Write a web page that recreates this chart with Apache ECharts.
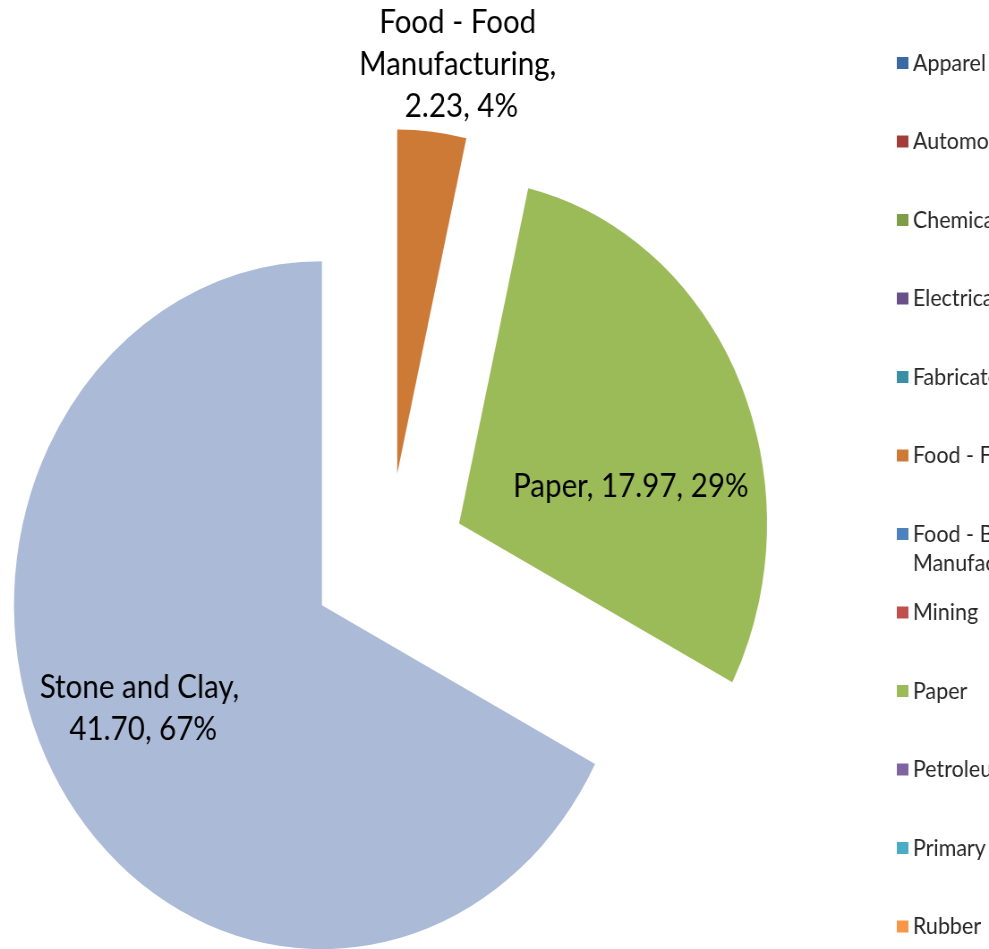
<!DOCTYPE html>
<html>
<head>
<meta charset="utf-8">
<script src="https://cdn.jsdelivr.net/npm/echarts@6/dist/echarts.min.js"></script>
<style>
  html, body { margin: 0; padding: 0; overflow: hidden; background: #fff; }
  /* the reference picture is squeezed horizontally, so draw wider and squeeze */
  #main { width: 1105px; height: 949px; transform: scaleX(0.895); transform-origin: 0 0; }
</style>
</head>
<body>
<div id="main"></div>
<script>
  var categories = ['Apparel', 'Automotive', 'Chemicals', 'Electrical', 'Fabricated Metals',
    'Food - Food Manufacturing', 'Food - Beverage Manufacturing', 'Mining', 'Paper',
    'Petroleum', 'Primary Metals', 'Rubber', 'Stone and Clay']
  var values = [0, 0, 0, 0, 0, 2.23, 0, 0, 17.97, 0, 0, 0, 41.70]
  var colors = ['#3b69a3', '#a23d3a', '#7f9d49', '#6a5088', '#3a8ea5', '#cd7a37',
    '#4f81bd', '#c0504d', '#9bbb59', '#8064a2', '#4bacc6', '#f79646', '#aabad7']

  // how far each data label is moved from its default inside spot (chart px)
  var labelShift = {
    'Food - Food Manufacturing': [52, -235],
    'Paper': [33, 36],
    'Stone and Clay': [-50, 12]
  }

  var font = 'Lato, "Liberation Sans", sans-serif'
  var myChart = echarts.init(document.getElementById('main'))

  var legends = categories.map(function (name, i) {
    var center = 63 + 78.5 * i
    var twoLine = name === 'Food - Beverage Manufacturing'
    return {
      orient: 'vertical',
      left: 1002,
      top: twoLine ? center - 43.5 : center - 14.5,
      padding: 0,
      itemWidth: 13,
      itemHeight: 12,
      itemGap: 0,
      icon: 'rect',
      selectedMode: false,
      data: [name],
      formatter: function (n) {
        // blank first line so the square lines up with the first line of text
        return n === 'Food - Beverage Manufacturing' ? '\nFood - Beverage\nManufacturing' : n
      },
      textStyle: {
        fontFamily: font,
        fontSize: 24,
        lineHeight: 29,
        color: '#262626'
      }
    }
  })

  var option = {
    animation: false,
    legend: legends,
    series: [{
      type: 'pie',
      center: [434, 560],
      radius: [0, 344],
      startAngle: 90,
      clockwise: true,
      selectedMode: 'multiple',
      selectedOffset: 87,
      itemStyle: { borderWidth: 0 },
      emphasis: { disabled: true },
      label: {
        show: true,
        position: 'inside',
        fontFamily: font,
        fontSize: 33,
        lineHeight: 42,
        color: '#000',
        width: 275,
        overflow: 'break',
        formatter: function (p) {
          return p.name + ', ' + p.value.toFixed(2) + ', ' + Math.round(p.percent) + '%'
        }
      },
      labelLine: { show: false },
      labelLayout: function (params) {
        var s = labelShift[categories[params.dataIndex]]
        return s ? { dx: s[0], dy: s[1] } : {}
      },
      data: categories.map(function (name, i) {
        return {
          name: name,
          value: values[i],
          selected: values[i] > 0,
          itemStyle: { color: colors[i] },
          label: { show: values[i] > 0 }
        }
      })
    }]
  }
  myChart.setOption(option)
</script>
</body>
</html>
